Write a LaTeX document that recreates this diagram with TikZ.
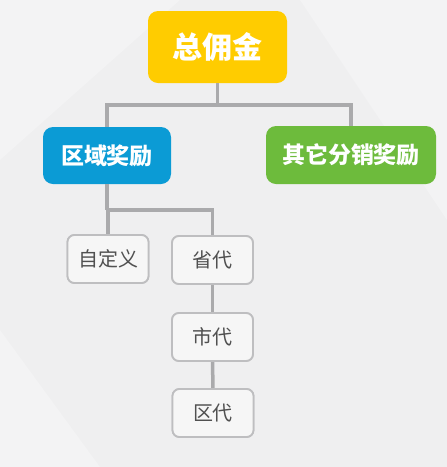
\documentclass[tikz,border=0pt]{standalone}
\usepackage{fontspec}
\newfontfamily\cjk{Noto Sans CJK SC}
\usetikzlibrary{positioning}
\definecolor{bgc}{RGB}{239,239,240}
\definecolor{bgl}{RGB}{243,243,244}
\definecolor{yel}{RGB}{255,204,0}
\definecolor{blu}{RGB}{11,155,213}
\definecolor{grn}{RGB}{109,187,60}
\definecolor{lnc}{RGB}{170,170,172}
\definecolor{bdc}{RGB}{190,190,192}
\definecolor{txc}{RGB}{80,80,80}
\definecolor{sfc}{RGB}{246,246,246}
\tikzset{
  bigbox/.style={rounded corners=10pt, text=white, font=\cjk\bfseries, inner sep=0pt},
  smallbox/.style={draw=bdc, line width=1.8pt, fill=sfc, rounded corners=7pt,
    minimum width=81pt, minimum height=48pt, inner sep=0pt, text=txc, font=\cjk\fontsize{20}{24}\selectfont},
  conn/.style={draw=lnc, line width=3.5pt}
}
\begin{document}
\begin{tikzpicture}[x=1pt,y=-1pt]
\fill[bgc] (0,0) rectangle (447,467);
\fill[bgl] (0,0) -- (180,0) -- (0,160) -- cycle;
\fill[bgl] (300,0) -- (447,0) -- (447,220) -- cycle;
\fill[bgl] (0,330) -- (100,467) -- (0,467) -- cycle;
\useasboundingbox (0,0) rectangle (447,467);
% big nodes
\node[bigbox, fill=yel, minimum width=139pt, minimum height=72pt, font=\cjk\bfseries\fontsize{30}{34}\selectfont] (tot) at (217.5,47) {总佣金};
\node[bigbox, fill=blu, minimum width=128pt, minimum height=57pt, font=\cjk\bfseries\fontsize{23}{27}\selectfont] (reg) at (107,155.5) {区域奖励};
\node[bigbox, fill=grn, minimum width=170pt, minimum height=58pt, font=\cjk\bfseries\fontsize{23}{27}\selectfont] (oth) at (351,155) {其它分销奖励};
% small nodes
\node[smallbox] (cus) at (108,259) {自定义};
\node[smallbox] (prv) at (212.5,260) {省代};
\node[smallbox] (cty) at (212.5,337) {市代};
\node[smallbox] (dst) at (213,413) {区代};
% connectors
\coordinate (j1) at (217.5,105);
\draw[conn] (tot.south) -- (j1);
\draw[conn] (reg.north) |- (j1) -| (oth.north);
\coordinate (j2) at (107,210);
\draw[conn] (reg.south) -- (j2);
\draw[conn] (cus.north) |- (j2) -| (prv.north);
\draw[conn] (prv.south) -- (cty.north);
\draw[conn] (cty.south) -- (dst.north);
% redraw boxes above connectors
\node[smallbox] at (cus) {自定义};
\node[smallbox] at (prv) {省代};
\node[smallbox] at (cty) {市代};
\node[smallbox] at (dst) {区代};
\end{tikzpicture}
\end{document}
